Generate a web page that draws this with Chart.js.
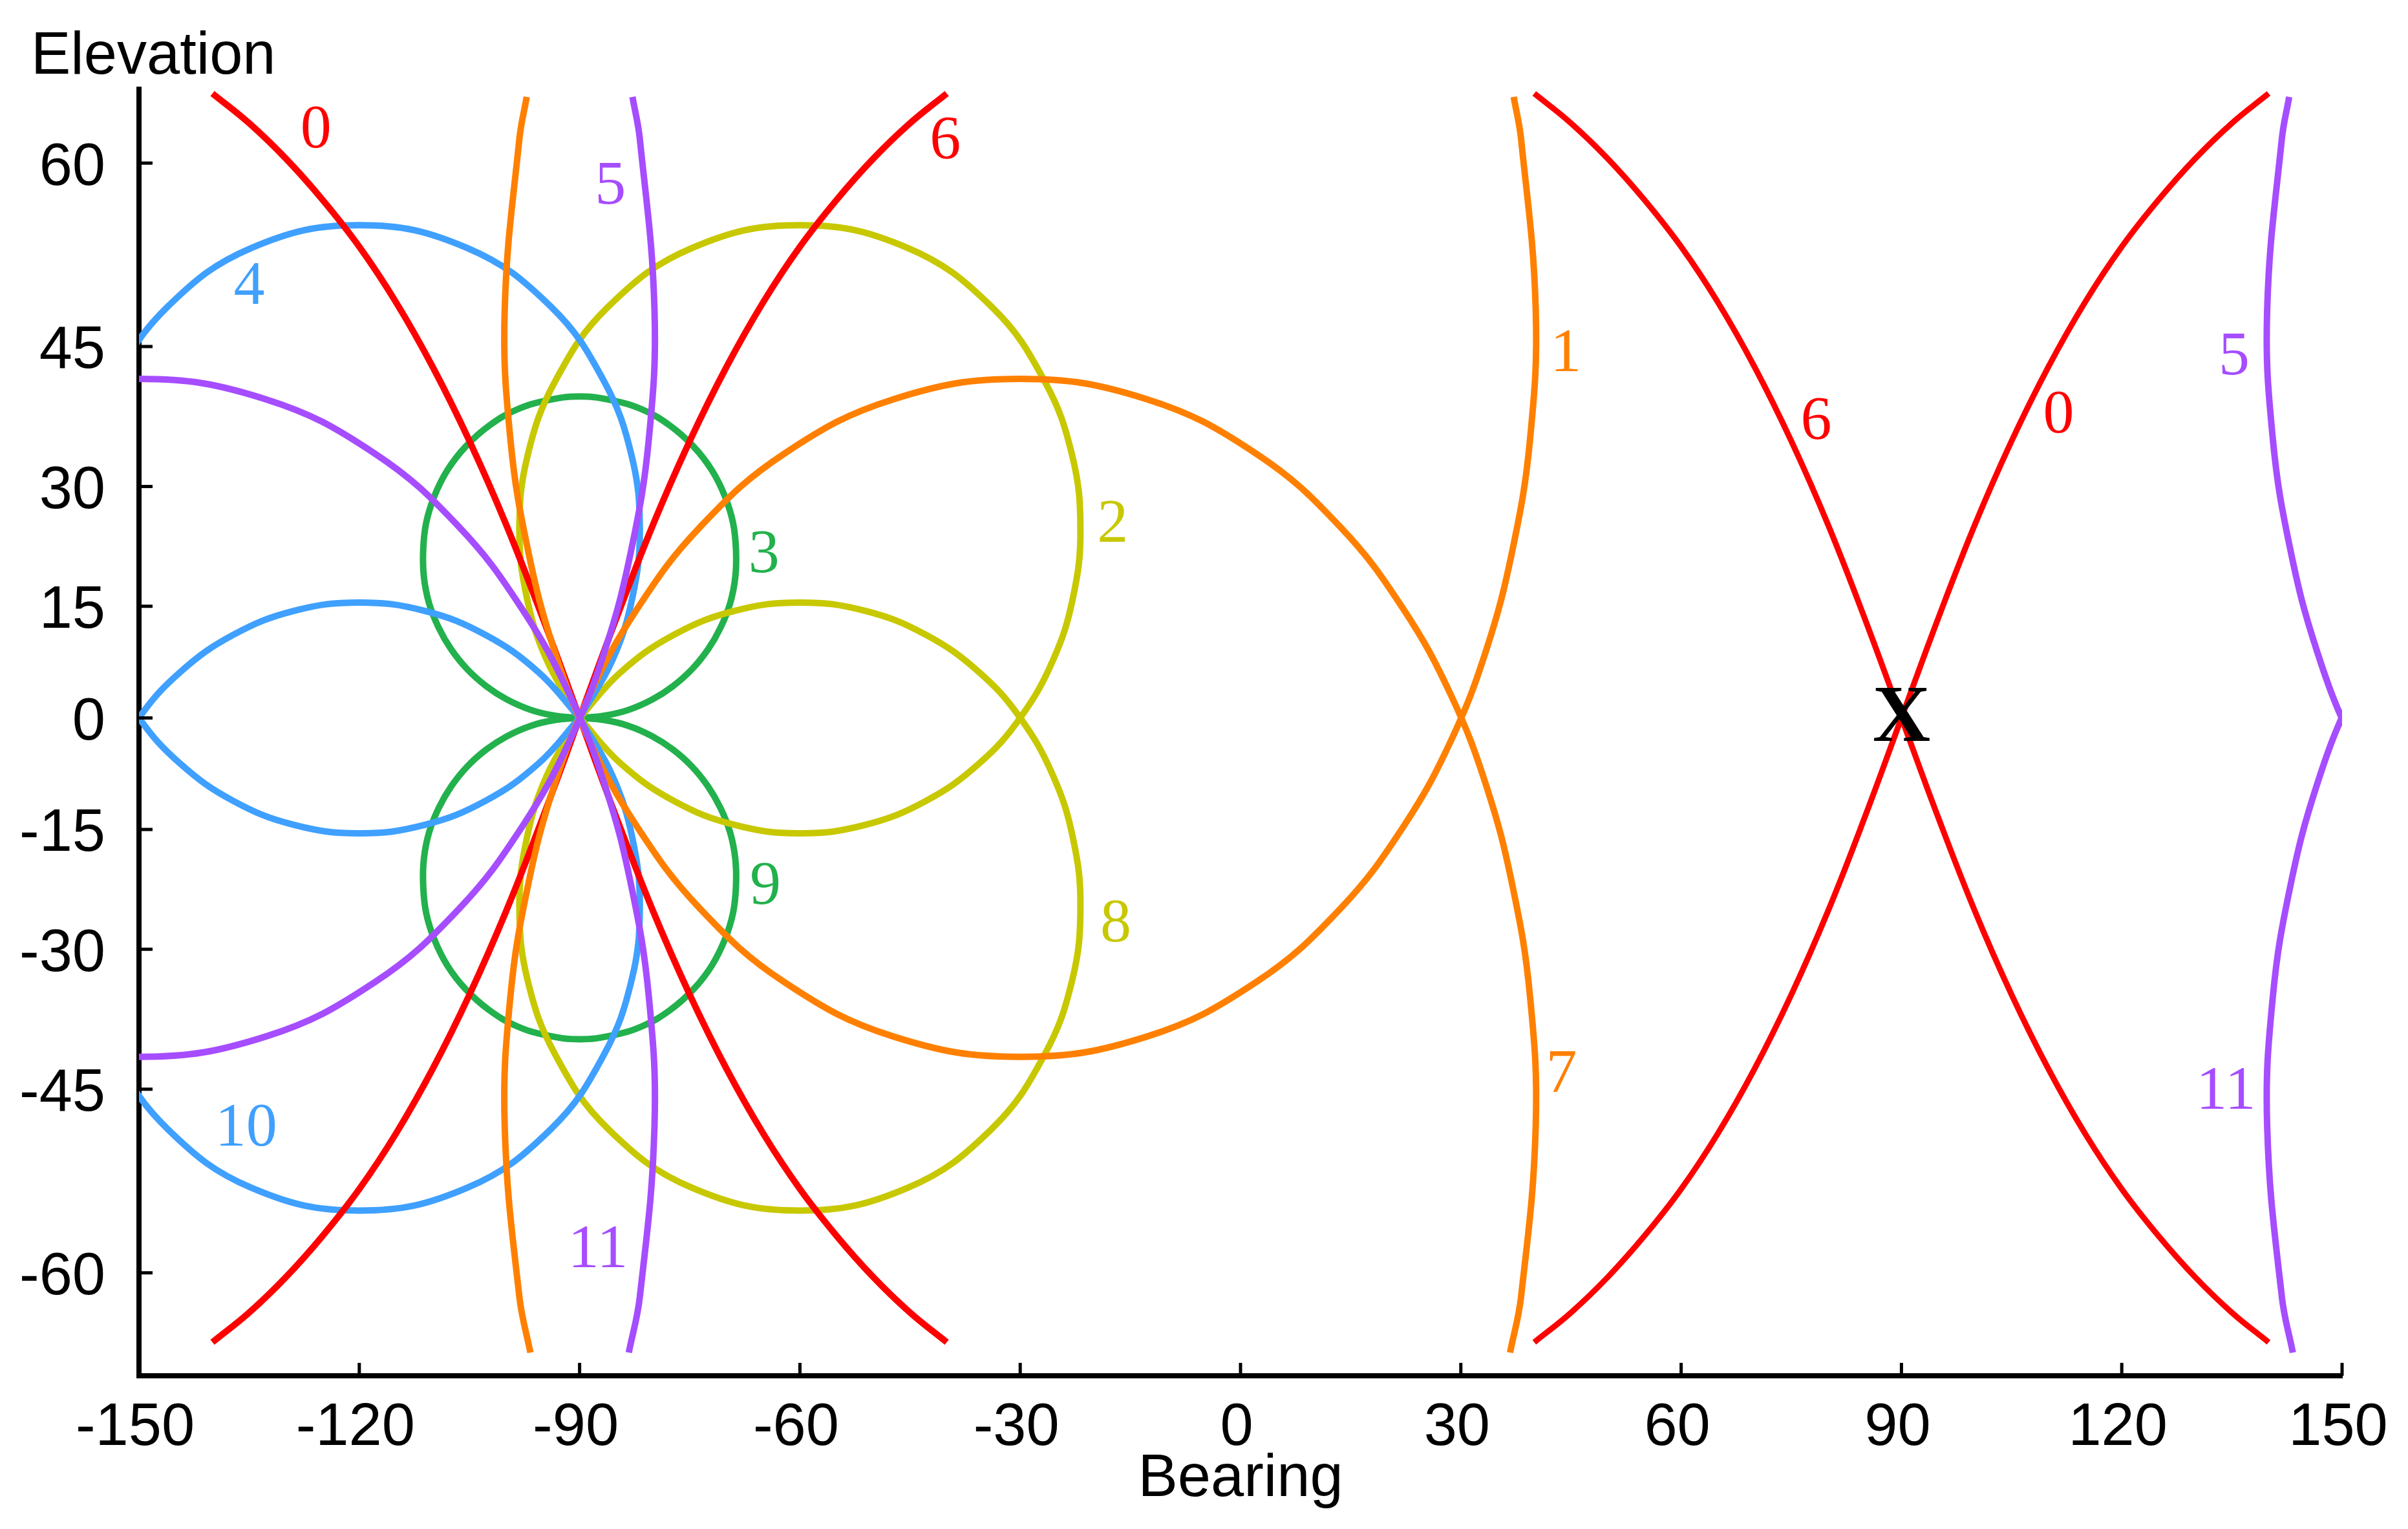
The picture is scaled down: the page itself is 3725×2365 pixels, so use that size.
<!DOCTYPE html>
<html>
<head>
<meta charset="utf-8">
<title>Bearing / Elevation</title>
<script src="https://cdn.jsdelivr.net/npm/chart.js@4.4.1/dist/chart.umd.min.js"></script>
<style>
  html, body { margin: 0; padding: 0; background: #fff; }
  #wrap { width: 3725px; height: 2365px; }
</style>
</head>
<body>
<div id="wrap"><canvas id="chart"></canvas></div>
<script>
// axis ticks (degrees)
const xTicks = [-150, -120, -90, -60, -30, 0, 30, 60, 90, 120, 150];
const yTicks = [-60, -45, -30, -15, 0, 15, 30, 45, 60];
const bearingMin = -150, bearingMax = 150;
const elevationMin = -66.3, elevationMax = 64.65;

// curve points: [bearing, elevation]
// (a few points sit just outside the frame so the curves leave it at the right angle)
const curve0Left = [[-140, 64.4], [-135, 62.6], [-130, 60.3], [-125, 57.4], [-120, 53.8], [-115, 49.1], [-110, 43.0], [-105, 35.2], [-100, 25.4], [-95, 13.4], [-90, 0], [-85, -13.4], [-80, -25.4], [-75, -35.2], [-70, -43.0], [-65, -49.1], [-60, -53.8], [-55, -57.4], [-50, -60.3], [-45, -62.6], [-40, -64.4]];
const curve0Right = [[40, -64.4], [45, -62.6], [50, -60.3], [55, -57.4], [60, -53.8], [65, -49.1], [70, -43.0], [75, -35.2], [80, -25.4], [85, -13.4], [90, 0], [95, 13.4], [100, 25.4], [105, 35.2], [110, 43.0], [115, 49.1], [120, 53.8], [125, 57.4], [130, 60.3], [135, 62.6], [140, 64.4]];
const curve6Left = [[-140, -64.4], [-135, -62.6], [-130, -60.3], [-125, -57.4], [-120, -53.8], [-115, -49.1], [-110, -43.0], [-105, -35.2], [-100, -25.4], [-95, -13.4], [-90, 0], [-85, 13.4], [-80, 25.4], [-75, 35.2], [-70, 43.0], [-65, 49.1], [-60, 53.8], [-55, 57.4], [-50, 60.3], [-45, 62.6], [-40, 64.4]];
const curve6Right = [[40, 64.4], [45, 62.6], [50, 60.3], [55, 57.4], [60, 53.8], [65, 49.1], [70, 43.0], [75, 35.2], [80, 25.4], [85, 13.4], [90, 0], [95, -13.4], [100, -25.4], [105, -35.2], [110, -43.0], [115, -49.1], [120, -53.8], [125, -57.4], [130, -60.3], [135, -62.6], [140, -64.4]];

const curve1 = [[-97.2, 64.2], [-98.2, 61.6], [-100.2, 48.4], [-99.4, 35.2], [-97.0, 22.1], [-93.5, 9.3], [-88.7, -3.0], [-82.2, -14.6], [-73.6, -25.1], [-62.1, -33.8], [-47.3, -39.7], [-30.0, -41.8], [-12.7, -39.7], [2.1, -33.8], [13.6, -25.1], [22.2, -14.6], [28.7, -3.0], [33.5, 9.3], [37.0, 22.1], [39.4, 35.2], [40.2, 48.4], [38.2, 61.6], [37.2, 64.2]];
const curve7 = [[-96.7, -65.0], [-98.2, -61.6], [-100.2, -48.4], [-99.4, -35.2], [-97.0, -22.1], [-93.5, -9.3], [-88.7, 3.0], [-82.2, 14.6], [-73.6, 25.1], [-62.1, 33.8], [-47.3, 39.7], [-30.0, 41.8], [-12.7, 39.7], [2.1, 33.8], [13.6, 25.1], [22.2, 14.6], [28.7, 3.0], [33.5, -9.3], [37.0, -22.1], [39.4, -35.2], [40.2, -48.4], [38.2, -61.6], [36.7, -65.0]];

const curve2 = [[-90, 0], [-94.5, 7.9], [-97.2, 16.2], [-98.2, 24.8], [-97.1, 33.5], [-93.3, 41.6], [-86.1, 48.7], [-74.7, 53.7], [-60, 55.5], [-45.3, 53.7], [-33.9, 48.7], [-26.7, 41.6], [-22.9, 33.5], [-21.8, 24.8], [-22.8, 16.2], [-25.5, 7.9], [-30, 0], [-35.6, -6.2], [-42.8, -11.2], [-51.1, -14.4], [-60, -15.5], [-68.9, -14.4], [-77.2, -11.2], [-84.4, -6.2], [-90, 0]];
const curve8 = [[-90, 0], [-94.5, -7.9], [-97.2, -16.2], [-98.2, -24.8], [-97.1, -33.5], [-93.3, -41.6], [-86.1, -48.7], [-74.7, -53.7], [-60, -55.5], [-45.3, -53.7], [-33.9, -48.7], [-26.7, -41.6], [-22.9, -33.5], [-21.8, -24.8], [-22.8, -16.2], [-25.5, -7.9], [-30, 0], [-35.6, 6.2], [-42.8, 11.2], [-51.1, 14.4], [-60, 15.5], [-68.9, 14.4], [-77.2, 11.2], [-84.4, 6.2], [-90, 0]];

const curve3 = [[-90, 0], [-86.6, 0.3], [-83.3, 1.1], [-80.1, 2.5], [-77.3, 4.3], [-74.7, 6.6], [-72.5, 9.3], [-70.8, 12.2], [-69.5, 15.4], [-68.8, 18.8], [-68.7, 22.2], [-69.1, 25.6], [-70.2, 28.8], [-72.0, 31.9], [-74.5, 34.6], [-77.7, 36.9], [-81.4, 38.6], [-85.6, 39.6], [-90, 40.0], [-94.4, 39.6], [-98.6, 38.6], [-102.3, 36.9], [-105.5, 34.6], [-108.0, 31.9], [-109.8, 28.8], [-110.9, 25.6], [-111.3, 22.2], [-111.2, 18.8], [-110.5, 15.4], [-109.2, 12.2], [-107.5, 9.3], [-105.3, 6.6], [-102.7, 4.3], [-99.9, 2.5], [-96.7, 1.1], [-93.4, 0.3], [-90, 0]];
const curve9 = [[-90, 0], [-86.6, -0.3], [-83.3, -1.1], [-80.1, -2.5], [-77.3, -4.3], [-74.7, -6.6], [-72.5, -9.3], [-70.8, -12.2], [-69.5, -15.4], [-68.8, -18.8], [-68.7, -22.2], [-69.1, -25.6], [-70.2, -28.8], [-72.0, -31.9], [-74.5, -34.6], [-77.7, -36.9], [-81.4, -38.6], [-85.6, -39.6], [-90, -40.0], [-94.4, -39.6], [-98.6, -38.6], [-102.3, -36.9], [-105.5, -34.6], [-108.0, -31.9], [-109.8, -28.8], [-110.9, -25.6], [-111.3, -22.2], [-111.2, -18.8], [-110.5, -15.4], [-109.2, -12.2], [-107.5, -9.3], [-105.3, -6.6], [-102.7, -4.3], [-99.9, -2.5], [-96.7, -1.1], [-93.4, -0.3], [-90, 0]];

const curve4 = [[-90, 0], [-85.5, 7.9], [-82.8, 16.2], [-81.8, 24.8], [-82.9, 33.5], [-86.7, 41.6], [-93.9, 48.7], [-105.3, 53.7], [-120, 55.5], [-134.7, 53.7], [-146.1, 48.7], [-153.3, 41.6], [-157.1, 33.5], [-158.2, 24.8], [-157.2, 16.2], [-154.5, 7.9], [-150, 0], [-144.4, -6.2], [-137.2, -11.2], [-128.9, -14.4], [-120, -15.5], [-111.1, -14.4], [-102.8, -11.2], [-95.6, -6.2], [-90, 0]];
const curve10 = [[-90, 0], [-85.5, -7.9], [-82.8, -16.2], [-81.8, -24.8], [-82.9, -33.5], [-86.7, -41.6], [-93.9, -48.7], [-105.3, -53.7], [-120, -55.5], [-134.7, -53.7], [-146.1, -48.7], [-153.3, -41.6], [-157.1, -33.5], [-158.2, -24.8], [-157.2, -16.2], [-154.5, -7.9], [-150, 0], [-144.4, 6.2], [-137.2, 11.2], [-128.9, 14.4], [-120, 15.5], [-111.1, 14.4], [-102.8, 11.2], [-95.6, 6.2], [-90, 0]];

const curve5Left = [[-167.3, -39.7], [-150, -41.8], [-132.7, -39.7], [-117.9, -33.8], [-106.4, -25.1], [-97.8, -14.6], [-91.3, -3.0], [-86.5, 9.3], [-83.0, 22.1], [-80.6, 35.2], [-79.8, 48.4], [-81.8, 61.6], [-82.8, 64.2]];
const curve5Right = [[157.8, -14.6], [151.3, -3.0], [146.5, 9.3], [143.0, 22.1], [140.6, 35.2], [139.8, 48.4], [141.8, 61.6], [142.8, 64.2]];
const curve11Left = [[-167.3, 39.7], [-150, 41.8], [-132.7, 39.7], [-117.9, 33.8], [-106.4, 25.1], [-97.8, 14.6], [-91.3, 3.0], [-86.5, -9.3], [-83.0, -22.1], [-80.6, -35.2], [-79.8, -48.4], [-81.8, -61.6], [-83.3, -65.0]];
const curve11Right = [[157.8, 14.6], [151.3, 3.0], [146.5, -9.3], [143.0, -22.1], [140.6, -35.2], [139.8, -48.4], [141.8, -61.6], [143.3, -65.0]];

// curve number labels
const labelText = ['0', '6', '4', '5', '1', '6', '0', '5', '3', '2', '9', '8', '7', '10', '11', '11'];
const labelBearing = [-125.9, -40.2, -135.0, -85.8, 44.3, 78.4, 111.4, 135.3, -64.9, -17.4, -64.7, -17.0, 43.7, -135.4, -87.5, 134.2];
const labelElevation = [62.1, 61.4, 50.4, 58.3, 44.2, 37.2, 37.9, 43.9, 21.5, 25.3, -22.5, -27.1, -43.7, -48.7, -58.5, -45.3];
const markerBearing = 90, markerElevation = 0;

const curveColors = ['#ff0000', '#ff8000', '#c8c800', '#22b14c', '#3fa0ff', '#a64dff'];

// elevation axis is drawn in Mercator units
const merc = e => Math.log(Math.tan(Math.PI / 4 + e * Math.PI / 360));
const unmerc = m => Math.atan(Math.sinh(m)) * 180 / Math.PI;

// first entry is drawn on top
const segments = [
  [curve5Left, 5], [curve5Right, 5], [curve11Left, 11], [curve11Right, 11],
  [curve1, 1], [curve7, 7],
  [curve0Left, 0], [curve0Right, 0, 9], [curve6Left, 6], [curve6Right, 6, 9],
  [curve4, 4], [curve10, 10],
  [curve2, 2], [curve8, 8],
  [curve3, 3], [curve9, 9]
];

const datasets = segments.map(([pts, n, width]) => ({
  label: 'curve ' + n,
  data: pts.map(([b, e]) => ({x: b, y: merc(e)})),
  borderColor: curveColors[n % 6],
  borderWidth: width || 10,
  pointRadius: 0,
  showLine: true,
  fill: false,
  tension: 0.4,
  capBezierPoints: false
}));

const SANS = '"Liberation Sans", Arial, sans-serif';
const SERIF = '"Liberation Serif", "Times New Roman", serif';

const decorations = {
  id: 'decorations',
  afterDatasetsDraw(chart) {
    const {ctx, scales: {x, y}} = chart;
    ctx.save();
    // curve numbers
    ctx.textAlign = 'center';
    ctx.textBaseline = 'middle';
    ctx.font = '96px ' + SERIF;
    labelText.forEach((t, i) => {
      ctx.fillStyle = curveColors[parseInt(t) % 6];
      ctx.fillText(t, x.getPixelForValue(labelBearing[i]), y.getPixelForValue(merc(labelElevation[i])));
    });
    // target marker
    ctx.fillStyle = '#000';
    ctx.font = 'bold 124px ' + SERIF;
    ctx.fillText('X', x.getPixelForValue(markerBearing), y.getPixelForValue(merc(markerElevation)) + 4);
    ctx.restore();
  },
  afterDraw(chart) {
    const {ctx, chartArea: a, scales: {x, y}} = chart;
    ctx.save();
    // inward tick marks
    ctx.strokeStyle = '#000';
    ctx.lineWidth = 5;
    ctx.beginPath();
    xTicks.forEach(v => {
      const px = x.getPixelForValue(v);
      ctx.moveTo(px, a.bottom);
      ctx.lineTo(px, a.bottom - 20);
    });
    yTicks.forEach(v => {
      const py = y.getPixelForValue(merc(v));
      ctx.moveTo(a.left, py);
      ctx.lineTo(a.left + 21, py);
    });
    ctx.stroke();
    // y axis name sits above the axis, unrotated
    ctx.fillStyle = '#000';
    ctx.font = '92px ' + SANS;
    ctx.textAlign = 'left';
    ctx.textBaseline = 'alphabetic';
    ctx.fillText('Elevation', 48, 114);
    ctx.restore();
  }
};

Chart.defaults.font.family = SANS;
Chart.defaults.color = '#000';

new Chart(document.getElementById('chart'), {
  type: 'scatter',
  data: {datasets},
  options: {
    animation: false,
    responsive: true,
    maintainAspectRatio: false,
    devicePixelRatio: 1,
    events: [],
    layout: {padding: {left: 0, top: 138, right: 102, bottom: 0}},
    plugins: {
      legend: {display: false},
      tooltip: {enabled: false}
    },
    scales: {
      x: {
        type: 'linear',
        min: bearingMin,
        max: bearingMax,
        afterBuildTicks: s => { s.ticks = xTicks.map(v => ({value: v})); },
        afterFit: s => { s.height = 237; },
        grid: {display: false},
        border: {display: true, color: '#000', width: 8},
        ticks: {
          autoSkip: false,
          maxRotation: 0,
          padding: 18,
          labelOffset: -6,
          font: {size: 92},
          callback: v => String(v)
        },
        title: {
          display: true,
          text: 'Bearing',
          font: {size: 92},
          padding: {top: 0, bottom: 21}
        }
      },
      y: {
        type: 'linear',
        min: merc(elevationMin),
        max: merc(elevationMax),
        afterBuildTicks: s => { s.ticks = yTicks.map(v => ({value: merc(v)})); },
        afterFit: s => { s.width = 215; },
        grid: {display: false},
        border: {display: true, color: '#000', width: 8},
        ticks: {
          autoSkip: false,
          padding: 44,
          labelOffset: 8,
          font: {size: 92},
          callback: v => String(Math.round(unmerc(v)))
        }
      }
    }
  },
  plugins: [decorations]
});
</script>
</body>
</html>
